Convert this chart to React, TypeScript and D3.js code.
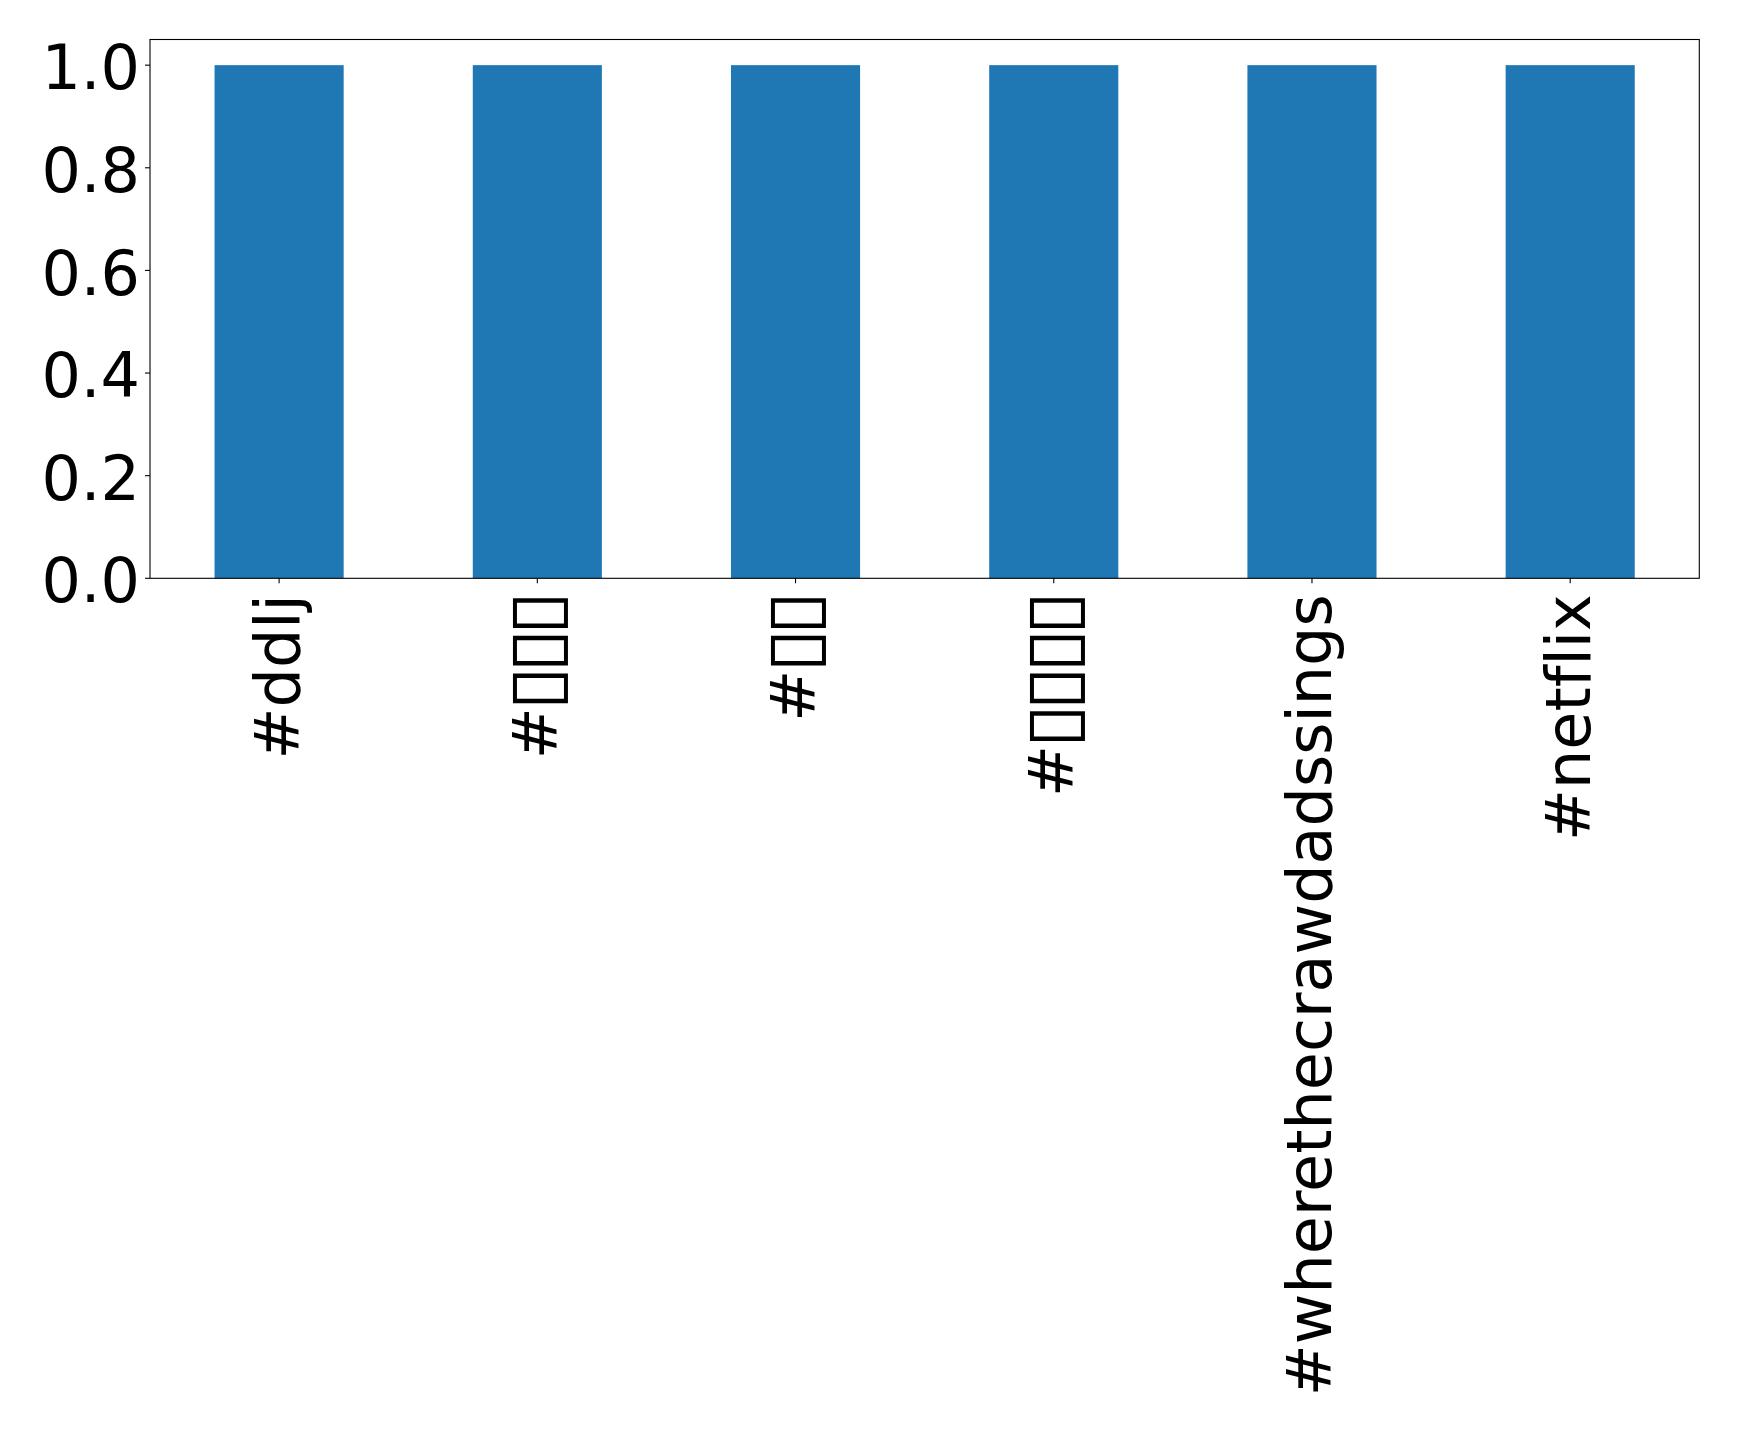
import React, { useEffect, useState } from "react";
import * as d3 from "d3";

// Missing-glyph (tofu) characters as rendered in the reference
const TOFU = "\u25AF";
const categories: string[] = [
  "#ddlj",
  "#" + TOFU + TOFU + TOFU,
  "#" + TOFU + TOFU,
  "#" + TOFU + TOFU + TOFU + TOFU,
  "#wherethecrawdadssings",
  "#netflix",
];
const values: number[] = [1, 1, 1, 1, 1, 1];
const yTicks: number[] = [0, 0.2, 0.4, 0.6, 0.8, 1.0];

const W = 1739;
const H = 1436;
const M = { left: 150, right: 1699.3, top: 39.5, bottom: 578.3 };
const FONT = 62;
const FF = "DejaVu Sans";

type Metrics = { L: number; R: number; A: number; D: number };

export default function App() {
  const [met, setMet] = useState<Metrics | null>(null);
  useEffect(() => {
    document.body.style.margin = "0";
    const ctx = document.createElement("canvas").getContext("2d");
    if (ctx) {
      ctx.font = `${FONT}px "${FF}"`;
      const m = ctx.measureText(TOFU);
      setMet({
        L: m.actualBoundingBoxLeft,
        R: m.actualBoundingBoxRight,
        A: m.actualBoundingBoxAscent,
        D: m.actualBoundingBoxDescent,
      });
    }
  }, []);

  const x = d3
    .scaleLinear()
    .domain([-0.5, categories.length - 0.5])
    .range([M.left, M.right]);
  const y = d3.scaleLinear().domain([0, 1.05]).range([M.bottom, M.top]);
  const bw = x(0.25) - x(-0.25);

  const adv = 0.608 * FONT;
  const inkL = 0.05 * FONT;
  const inkW = 0.505 * FONT;
  const inkTop = 0.71 * FONT;
  const inkBot = 0.187 * FONT;

  const renderLabel = (c: string) => {
    const n = (c.match(new RegExp(TOFU, "g")) || []).length;
    if (n === 0 || !met) {
      return (
        <text textAnchor="end" fontSize={FONT} fill="#000">
          {c}
        </text>
      );
    }
    const prefix = c.split(TOFU).join("");
    const sx = inkW / (met.L + met.R);
    const sy = (inkTop + inkBot) / (met.A + met.D);
    const start = -n * adv;
    return (
      <g>
        <text x={start} textAnchor="end" fontSize={FONT} fill="#000">
          {prefix}
        </text>
        {d3.range(n).map((j) => (
          <text
            key={j}
            transform={`translate(${start + j * adv + inkL + sx * met.L},${-inkTop + sy * met.A}) scale(${sx},${sy})`}
            fontSize={FONT}
            fill="#000"
          >
            {TOFU}
          </text>
        ))}
      </g>
    );
  };

  return (
    <svg width={W} height={H} style={{ display: "block", background: "#fff", fontVariantLigatures: "none" }}
      fontFamily={FF}>
      {values.map((v, i) => (
        <rect key={i} x={x(i) - bw / 2} y={y(v)} width={bw} height={y(0) - y(v)} fill="#1f77b4" />
      ))}
      <rect x={M.left} y={M.top} width={M.right - M.left} height={M.bottom - M.top}
        fill="none" stroke="#000" strokeWidth={1.1} />
      {yTicks.map((t) => (
        <g key={t}>
          <line x1={M.left - 5} x2={M.left} y1={y(t)} y2={y(t)} stroke="#000" strokeWidth={1.1} />
          <text x={M.left - 10} y={y(t)} dy="0.39em" textAnchor="end" fontSize={FONT} fill="#000">
            {d3.format(".1f")(t)}
          </text>
        </g>
      ))}
      {categories.map((c, i) => (
        <g key={c}>
          <line x1={x(i)} x2={x(i)} y1={M.bottom} y2={M.bottom + 5} stroke="#000" strokeWidth={1.1} />
          <g transform={`translate(${x(i) + 19.5},${M.bottom + 16}) rotate(-90)`}>
            {renderLabel(c)}
          </g>
        </g>
      ))}
    </svg>
  );
}
